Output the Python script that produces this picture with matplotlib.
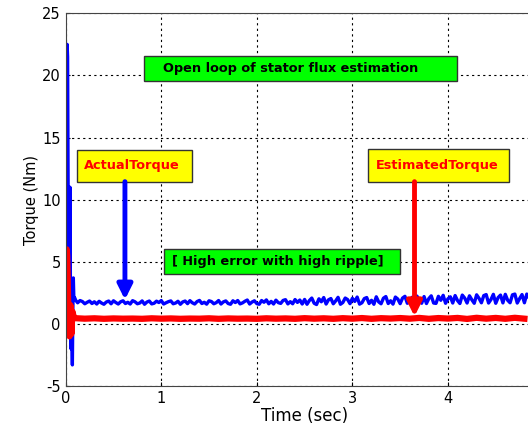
import matplotlib
matplotlib.use("Agg")
import matplotlib.pyplot as plt
from matplotlib.patches import Rectangle
import numpy as np

plt.rcParams["axes.unicode_minus"] = False
plt.rcParams["path.simplify"] = False

# start-up transient, sampled every 5 ms
blue_start_t = [0, 0.005, 0.01, 0.015, 0.02, 0.025, 0.03, 0.035, 0.04, 0.045,
                0.05, 0.055, 0.06, 0.065, 0.07, 0.075, 0.08, 0.085, 0.09, 0.095]
blue_start = [0, 8.0, 18.0, 22.5, 21.5, 12.0, 4.0, -1.0, 6.0, 11.0,
              2.0, -2.0, 1.5, -1.0, -3.3, 1.0, 3.7, 2.2, 2.0, 2.1]

red_start_t = [0, 0.005, 0.01, 0.015, 0.02, 0.025, 0.03, 0.035, 0.04, 0.045,
               0.05, 0.055, 0.06, 0.07, 0.08, 0.09]
red_start = [0, 3.5, 6.0, 5.5, 4.0, 2.0, 0.8, -0.5, -1.0, 0.3,
             1.5, 0.2, -0.8, 1.0, 0.7, 0.5]

# steady state actual torque, every 25 ms from 0.1 s
actual_torque = [
    1.95, 1.70, 1.88, 1.80, 1.62, 1.74, 1.84, 1.64, 1.78, 1.60,
    1.82, 1.68, 1.58, 1.76, 1.84, 1.62, 1.86, 1.72, 1.60, 1.78,
    1.86, 1.64, 1.74, 1.60, 1.87, 1.78, 1.62, 1.68, 1.85, 1.58,
    1.76, 1.84, 1.61, 1.66, 1.83, 1.72, 1.88, 1.60, 1.70, 1.79,
    1.85, 1.62, 1.68, 1.82, 1.58, 1.77, 1.84, 1.63, 1.87, 1.70,
    1.60, 1.80, 1.89, 1.64, 1.74, 1.59, 1.86, 1.80, 1.62, 1.71,
    1.88, 1.60, 1.77, 1.85, 1.64, 1.58, 1.86, 1.72, 1.88, 1.61,
    1.69, 1.82, 1.92, 1.60, 1.76, 1.86, 1.63, 1.58, 1.88, 1.74,
    1.93, 1.62, 1.81, 1.60, 1.91, 1.71, 1.65, 1.89, 1.95, 1.61,
    1.79, 1.62, 1.96, 1.73, 1.92, 1.60, 1.97,
    1.58, 1.88, 2.08, 1.66, 1.56, 2.02, 1.78, 2.12, 1.60, 1.94,
    2.04, 1.62, 1.85, 2.14, 1.58, 1.72, 2.08, 1.96, 1.63, 2.06,
    1.81, 2.16, 1.59, 1.70, 2.04, 2.12, 1.64, 1.90, 1.58, 2.18,
    1.77, 1.62, 2.07, 2.20, 1.64, 1.86, 1.59, 2.16, 2.00, 1.63,
    2.08, 2.22, 1.66, 1.80, 2.14, 1.61, 2.24, 1.94, 1.66, 2.20,
    1.64, 2.04, 2.26, 1.68, 1.65, 2.22, 1.90, 2.30, 1.66, 2.02,
    2.18, 1.68, 2.28, 1.88, 1.64, 2.32, 2.08, 1.68, 2.26, 1.94,
    1.66, 2.34, 2.06, 1.70, 2.28, 2.36, 1.68, 1.96, 2.38, 1.66,
    2.12, 2.32, 1.69, 2.38, 1.90, 1.70, 2.34, 2.40, 1.68, 2.04,
    2.36, 1.70, 2.40, 2.08,
]

# steady state estimated torque, every 100 ms from 0.1 s
estimated_torque = [
    0.46, 0.42, 0.45, 0.41, 0.44, 0.42, 0.43, 0.41, 0.45, 0.42,
    0.44, 0.41, 0.43, 0.42, 0.45, 0.41, 0.44, 0.42, 0.43, 0.41,
    0.45, 0.42, 0.44, 0.41, 0.46, 0.42, 0.45, 0.41, 0.46, 0.42,
    0.47, 0.41, 0.46, 0.43, 0.47, 0.42, 0.48, 0.41, 0.47, 0.43,
    0.48, 0.40, 0.49, 0.42, 0.48, 0.41, 0.49, 0.42,
]

actual_t = 0.1 + 0.025 * np.arange(len(actual_torque))
estimated_t = 0.1 + 0.1 * np.arange(len(estimated_torque))

t_blue = np.concatenate([blue_start_t, actual_t])
y_blue = np.concatenate([blue_start, actual_torque])
t_red = np.concatenate([red_start_t, estimated_t])
y_red = np.concatenate([red_start, estimated_torque])

fig = plt.figure(figsize=(5.28, 4.28), dpi=100)
ax = fig.add_axes([0.1244, 0.0981, 0.905, 0.8708])

ax.plot(t_blue, y_blue, color="#0000ff", lw=2.4)
ax.plot(t_red, y_red, color="#ff0000", lw=4.5)

ax.set_xlim(0, 5)
ax.set_ylim(-5, 25)
ax.set_xticks([0, 1, 2, 3, 4])
ax.set_yticks([-5, 0, 5, 10, 15, 20, 25])
ax.grid(True, color="black", linestyle=(0, (2, 3)), linewidth=0.8)
ax.tick_params(labelsize=10.5, direction="in", length=3)
for s in ax.spines.values():
    s.set_color("#444444")
ax.set_xlabel("Time (sec)", fontsize=12, labelpad=1)
ax.set_ylabel("Torque (Nm)", fontsize=10.5, labelpad=2)


def label_box(x0, x1, y0, y1, text, tx, face, color):
    ax.add_patch(Rectangle((x0, y0), x1 - x0, y1 - y0, facecolor=face,
                           edgecolor="#333333", lw=1.0, zorder=5))
    ax.text(tx, (y0 + y1) / 2, text, color=color, fontsize=9.3,
            fontweight="bold", ha="left", va="center", zorder=6)


label_box(0.82, 4.09, 19.55, 21.57, "Open loop of stator flux estimation",
          1.02, "#00ff00", "black")
label_box(0.115, 1.32, 11.45, 14.0, "ActualTorque", 0.19, "#ffff00", "#ff0000")
label_box(3.16, 4.64, 11.45, 14.05, "EstimatedTorque", 3.245, "#ffff00",
          "#ff0000")
label_box(1.03, 3.50, 4.02, 6.0, "[ High error with high ripple]", 1.11,
          "#00ff00", "black")

ax.annotate("", xy=(0.62, 1.95), xytext=(0.62, 11.45),
            arrowprops=dict(arrowstyle="-|>", color="#0000ff", lw=3.5,
                            mutation_scale=22, shrinkA=0, shrinkB=0),
            zorder=7)
ax.annotate("", xy=(3.65, 0.6), xytext=(3.65, 11.45),
            arrowprops=dict(arrowstyle="-|>", color="#ff0000", lw=3.5,
                            mutation_scale=22, shrinkA=0, shrinkB=0),
            zorder=7)

fig.savefig("out.png", dpi=100)
